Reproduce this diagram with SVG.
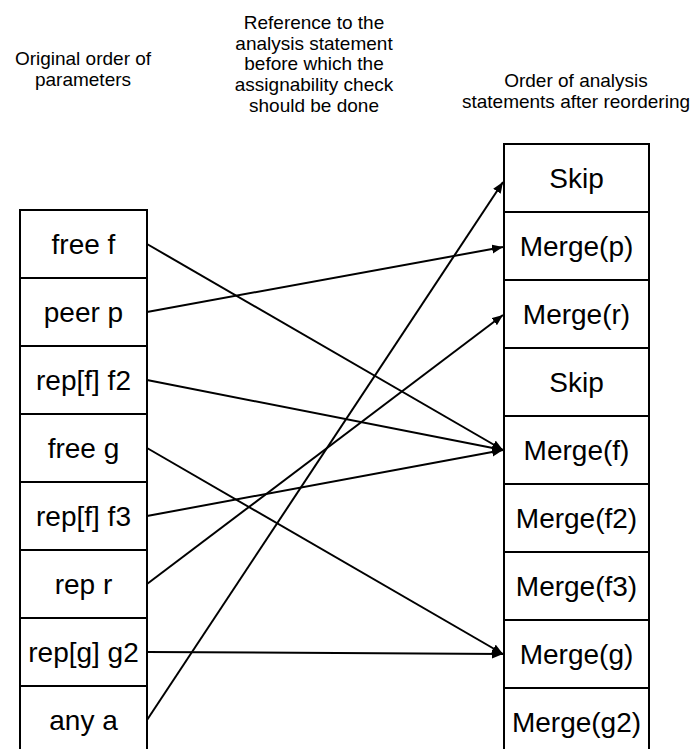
<svg xmlns="http://www.w3.org/2000/svg" width="694" height="749" viewBox="0 0 694 749">
  <style>
    .cap { font-family: "Liberation Sans", Arial, sans-serif; font-size: 19px; fill: #000; text-anchor: middle; }
    .box { fill: #fff; stroke: #000; stroke-width: 2; }
    .lbl { font-family: "Liberation Sans", Arial, sans-serif; font-size: 28px; fill: #000; text-anchor: middle; }
    .edge { stroke: #000; stroke-width: 2; fill: none; marker-end: url(#arrow); }
  </style>
  <defs>
    <marker id="arrow" markerUnits="userSpaceOnUse" markerWidth="12" markerHeight="10" refX="11" refY="4.5" orient="auto">
      <path d="M0,0 L11,4.5 L0,9 z" fill="#000"/>
    </marker>
  </defs>
  <rect width="694" height="749" fill="#fff"/>

  <!-- column headings -->
  <g id="headings">
    <text class="cap" x="83" y="64.5">Original order of</text>
    <text class="cap" x="83" y="85.5">parameters</text>
    <text class="cap" x="314" y="28.5">Reference to the</text>
    <text class="cap" x="314" y="49.5">analysis statement</text>
    <text class="cap" x="314" y="70">before which the</text>
    <text class="cap" x="314" y="91">assignability check</text>
    <text class="cap" x="314" y="112">should be done</text>
    <text class="cap" x="576" y="87">Order of analysis</text>
    <text class="cap" x="576" y="108">statements after reordering</text>
  </g>

  <!-- parameters, original order -->
  <g id="p-free-f"><rect class="box" x="20" y="210" width="127" height="68"/><text class="lbl" x="83.5" y="254">free f</text></g>
  <g id="p-peer-p"><rect class="box" x="20" y="278" width="127" height="68"/><text class="lbl" x="83.5" y="322">peer p</text></g>
  <g id="p-rep-f-f2"><rect class="box" x="20" y="346" width="127" height="68"/><text class="lbl" x="83.5" y="390">rep[f] f2</text></g>
  <g id="p-free-g"><rect class="box" x="20" y="414" width="127" height="68"/><text class="lbl" x="83.5" y="458">free g</text></g>
  <g id="p-rep-f-f3"><rect class="box" x="20" y="482" width="127" height="68"/><text class="lbl" x="83.5" y="526">rep[f] f3</text></g>
  <g id="p-rep-r"><rect class="box" x="20" y="550" width="127" height="68"/><text class="lbl" x="83.5" y="594">rep r</text></g>
  <g id="p-rep-g-g2"><rect class="box" x="20" y="618" width="127" height="68"/><text class="lbl" x="83.5" y="662">rep[g] g2</text></g>
  <g id="p-any-a"><rect class="box" x="20" y="686" width="127" height="80"/><text class="lbl" x="83.5" y="730">any a</text></g>

  <!-- analysis statements after reordering -->
  <g id="s-skip-1"><rect class="box" x="504" y="144" width="145" height="68"/><text class="lbl" x="576.5" y="188">Skip</text></g>
  <g id="s-merge-p"><rect class="box" x="504" y="212" width="145" height="68"/><text class="lbl" x="576.5" y="256">Merge(p)</text></g>
  <g id="s-merge-r"><rect class="box" x="504" y="280" width="145" height="68"/><text class="lbl" x="576.5" y="324">Merge(r)</text></g>
  <g id="s-skip-2"><rect class="box" x="504" y="348" width="145" height="68"/><text class="lbl" x="576.5" y="392">Skip</text></g>
  <g id="s-merge-f"><rect class="box" x="504" y="416" width="145" height="68"/><text class="lbl" x="576.5" y="460">Merge(f)</text></g>
  <g id="s-merge-f2"><rect class="box" x="504" y="484" width="145" height="68"/><text class="lbl" x="576.5" y="528">Merge(f2)</text></g>
  <g id="s-merge-f3"><rect class="box" x="504" y="552" width="145" height="68"/><text class="lbl" x="576.5" y="596">Merge(f3)</text></g>
  <g id="s-merge-g"><rect class="box" x="504" y="620" width="145" height="68"/><text class="lbl" x="576.5" y="664">Merge(g)</text></g>
  <g id="s-merge-g2"><rect class="box" x="504" y="688" width="145" height="80"/><text class="lbl" x="576.5" y="732">Merge(g2)</text></g>

  <!-- references from parameters to statements -->
  <g id="connectors">
    <line class="edge" x1="147" y1="244" x2="503" y2="450"/>
    <line class="edge" x1="147" y1="312" x2="503" y2="247"/>
    <line class="edge" x1="147" y1="380" x2="503" y2="450"/>
    <line class="edge" x1="147" y1="448" x2="503" y2="654"/>
    <line class="edge" x1="147" y1="516" x2="503" y2="450"/>
    <line class="edge" x1="147" y1="584" x2="503" y2="315"/>
    <line class="edge" x1="147" y1="652" x2="503" y2="654"/>
    <line class="edge" x1="147" y1="720" x2="503" y2="182"/>
  </g>
</svg>
